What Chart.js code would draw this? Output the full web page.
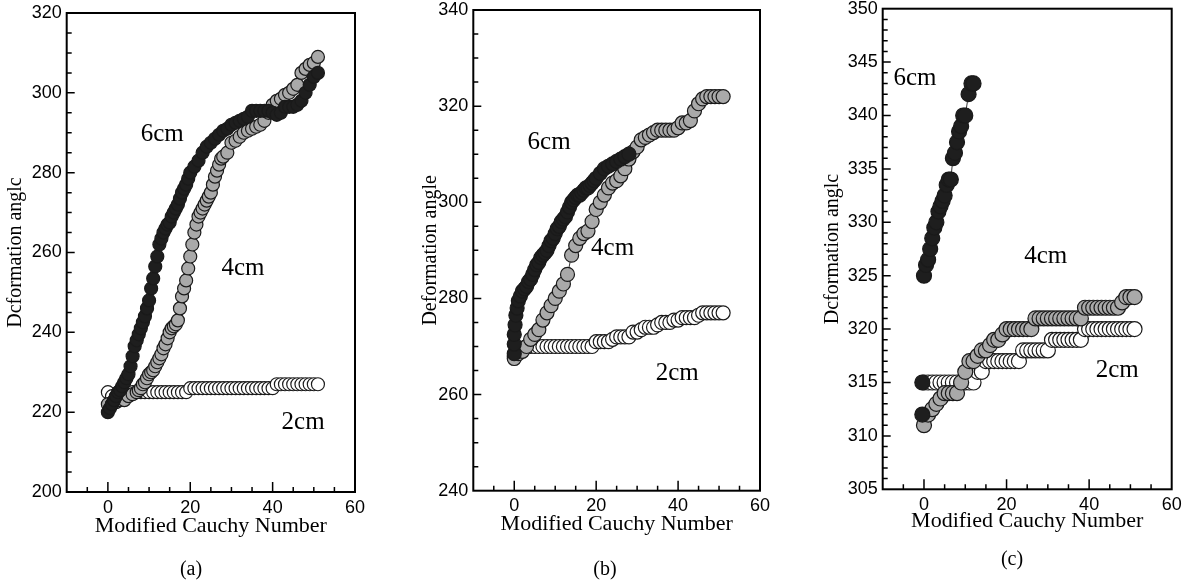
<!DOCTYPE html>
<html>
<head>
<meta charset="utf-8">
<script src="https://cdn.jsdelivr.net/npm/chart.js@4.4.0/dist/chart.umd.min.js"></script>
<style>
  body { margin: 0; background: #fff; width: 1191px; height: 586px; overflow: hidden; position: relative; }
  .panel { position: absolute; top: 0; height: 586px; }
  .caption { position: absolute; font-family: "Liberation Serif", serif; font-size: 20px; transform: translate(-50%, -50%); color: #000; }
</style>
</head>
<body>
<div class="panel" style="left:0;width:370px"><canvas id="chartA"></canvas></div>
<div class="panel" style="left:380px;width:395px"><canvas id="chartB"></canvas></div>
<div class="panel" style="left:790px;width:401px"><canvas id="chartC"></canvas></div>
<div class="caption" style="left:191px;top:568px">(a)</div>
<div class="caption" style="left:605px;top:568px">(b)</div>
<div class="caption" style="left:1012px;top:558px">(c)</div>
<script>
// Modified Cauchy Number (shared x values)
const cauchy = [0, 1, 2, 3, 4, 5, 6, 7, 8, 9, 10, 11, 12, 13, 14, 15, 16, 17, 18, 19, 20, 21, 22, 23, 24, 25,
  26, 27, 28, 29, 30, 31, 32, 33, 34, 35, 36, 37, 38, 39, 40, 41, 42, 43, 44, 45, 46, 47, 48, 49, 50, 51];

// tick labels
const xTicks = [0, 20, 40, 60];
const yTicksA = [200, 220, 240, 260, 280, 300, 320];
const yTicksB = [240, 260, 280, 300, 320, 340];
const yTicksC = [305, 310, 315, 320, 325, 330, 335, 340, 345, 350];

// (a) deformation angle
const angleA2cm = [225, 224, 224, 224, 224.5, 224.5, 225, 225, 225, 225, 225, 225, 225, 225, 225, 225, 225, 225, 225, 225,
  226, 226, 226, 226, 226, 226, 226, 226, 226, 226, 226, 226, 226, 226, 226, 226, 226, 226, 226, 226, 226,
  227, 227, 227, 227, 227, 227, 227, 227, 227, 227, 227];
const cauchyA4cm = [0, 1, 2, 3, 4, 5, 6, 7,
  7.5, 8, 8.5, 9, 9.5, 10, 10.5, 11, 11.5, 12, 12.5, 13, 13.5, 14, 14.5, 15, 15.5, 16, 16.5, 17, 17.5,
  18, 18.5, 19, 19.5, 20, 20.5, 21, 21.5, 22, 22.5, 23, 23.5, 24, 24.5, 25, 25.5, 26, 26.5, 27, 27.5,
  28, 29, 30, 31, 32, 33, 34, 35, 36, 37, 38, 39, 40, 41, 42, 43, 44, 45, 46, 47, 48, 49, 50, 51];
const angleA4cm = [222, 222, 222.5, 223, 223, 224, 224.5, 225,
  225.5, 226, 227, 227.5, 228.5, 229.5, 230, 230.5, 231.5, 232.5, 233.5, 234.5, 236, 237, 238.5, 240, 241, 241.5, 242, 243, 246,
  249, 251, 253, 256, 259, 262, 265, 267, 269, 270, 271, 272, 273, 274, 275, 277, 279, 280.5, 282, 283.5,
  284, 285, 287.5, 288, 289, 290, 290.5, 291, 291.5, 292, 293, 295, 297, 298, 298.5, 299.5, 300, 301, 302, 305, 306, 307, 307.5, 309];
const cauchyA6cm = [0, 0.5, 1, 1.5, 2, 2.5, 3, 3.5, 4, 4.5, 5, 5.5, 6, 6.5, 7, 7.5, 8, 8.5, 9, 9.5, 10,
  10.5, 11, 11.5, 12, 12.5, 13, 13.5, 14, 14.5, 15, 15.5, 16, 16.5, 17, 17.5, 18, 18.5, 19, 19.5, 20,
  21, 22, 23, 24, 25, 26, 27, 28, 29, 30, 31, 32, 33, 34, 35, 36, 37, 38, 39, 40, 41, 42, 43, 44, 45, 46, 47, 48, 49, 50, 51];
const angleA6cm = [220, 221, 222, 223, 224, 225, 225.5, 226.5, 227.5, 228.5, 229.5, 231.5, 234, 236.5, 238, 239.5, 241, 242.5,
  244, 246, 248, 251, 253.5, 256.5, 259, 262, 263.5, 265, 266, 267, 267.5, 269, 270, 271, 272, 273.5, 275, 276, 277, 278.5, 280,
  281.5, 283, 285, 286.5, 287.5, 288.5, 289.5, 290.5, 291, 292, 292.5, 293, 293.5, 294, 295.5, 295.5, 295.5, 295.5, 295.5,
  295, 294.5, 295, 296.5, 296.5, 296.5, 297, 298, 300, 302, 304, 305];

// (b) deformation angle
const angleB2cm = [268, 269, 269.5, 270, 270, 270, 270, 270, 270, 270, 270, 270, 270, 270, 270, 270, 270, 270, 270, 270,
  271, 271, 271, 271, 271.5, 272, 272, 272, 272, 273, 273, 273.5, 274, 274, 274, 274.5, 275, 275, 275, 275.5, 275.5,
  276, 276, 276, 276, 276.5, 277, 277, 277, 277, 277, 277];
const angleB4cm = [267.5, 268.5, 269, 270, 271.5, 272.5, 273.5, 275.5, 277, 278.5, 280, 281.5, 283, 285, 289, 291, 292.5,
  293.5, 294, 296, 298.5, 300, 301.5, 303, 304, 304.5, 305.5, 307, 309, 310.5, 311.5, 313, 313.5, 314, 314.5, 315, 315,
  315, 315, 315, 315.5, 316.5, 316.5, 317, 319, 320.5, 321.5, 322, 322, 322, 322, 322];
const cauchyB6cm = [0, 0, 0, 0.2, 0.4, 0.7, 1,
  1.5, 2, 2.5, 3, 3.5, 4, 4.5, 5, 5.5, 6, 6.5, 7, 7.5, 8, 8.5, 9, 9.5, 10, 10.5, 11, 11.5, 12, 12.5, 13, 13.5,
  14, 14.5, 15, 15.5, 16, 16.5, 17, 17.5, 18, 18.5, 19, 19.5,
  20, 21, 22, 23, 24, 25, 26, 27, 28];
const angleB6cm = [268.5, 270.5, 272.5, 274.5, 276.5, 278, 279.5,
  280.5, 281.5, 282, 282.5, 283.5, 284, 285, 286, 287, 287.5, 288.5, 289, 289.5, 290, 291, 292, 292.5, 293.5, 294.5, 295,
  296, 296.5, 297, 298, 299, 300, 300.5, 301, 301.5, 301.5, 302, 302.5, 303, 303, 303.5, 304, 304.5,
  305, 306, 307, 307.5, 308, 308.5, 309, 309.5, 310];

// (c) deformation angle
const angleC2cm = [315, 315, 315, 315, 315, 315, 315, 315, 315, 315, 315, 315, 315, 316, 316, 317, 317, 317, 317, 317, 317,
  317, 317, 317, 318, 318, 318, 318, 318, 318, 318, 319, 319, 319, 319, 319, 319, 319, 319, 320, 320, 320, 320, 320,
  320, 320, 320, 320, 320, 320, 320, 320];
const angleC4cm = [311, 312, 312.5, 313, 313.5, 314, 314, 314, 314, 315, 316, 317, 317, 317.5, 318, 318, 318.5, 319, 319,
  319.5, 320, 320, 320, 320, 320, 320, 320, 321, 321, 321, 321, 321, 321, 321, 321, 321, 321, 321, 321, 322, 322, 322,
  322, 322, 322, 322, 322, 322, 322.5, 323, 323, 323];
const cauchyC6cm = [0, 0.5, 1, 1.5, 2, 2.5, 3, 3.5, 4, 4.5, 5, 5.5, 6, 6.5, 7, 7.5, 8, 8.5, 9, 9.5, 10, 10.8, 11.5, 12];
const angleC6cm = [325, 326, 326.5, 327.5, 328.5, 329.5, 330, 331, 331.5, 332, 332.5, 333.5, 334, 334, 336, 336.5, 337.5,
  338.5, 339, 340, 340, 342, 343, 343];
const cauchyCStart = [-0.4, -0.4];
const angleCStart = [315, 312];

const fillBlack = "#1e1e1e";
const fillGray = "#a9a9a9";
const fillWhite = "#ffffff";

function toPoints(xs, ys) {
  return ys.map((v, i) => ({ x: xs[i], y: v }));
}

function makeSeries(xs, ys, fill, radius, order, line) {
  return {
    data: toPoints(xs, ys),
    showLine: line,
    borderColor: "#333",
    borderWidth: 1,
    pointRadius: radius,
    pointHoverRadius: radius,
    pointBackgroundColor: fill,
    pointBorderColor: "#1a1a1a",
    pointBorderWidth: 1.2,
    order: order,
    clip: false,
  };
}

// Plugin for the frame, inward ticks and the curve labels
const frameTicks = {
  id: "frameTicks",
  afterDraw(chart) {
    const opts = chart.options.plugins.frameTicks;
    const { ctx, chartArea: a } = chart;
    const x = chart.scales.x;
    const y = chart.scales.y;
    ctx.save();
    ctx.strokeStyle = "#000";
    ctx.lineWidth = 1.5;
    ctx.beginPath();
    for (let v = -5; v <= 55; v += 5) {
      const px = x.getPixelForValue(v);
      const len = xTicks.includes(v) ? 10 : 5;
      ctx.moveTo(px, a.bottom);
      ctx.lineTo(px, a.bottom - len);
    }
    for (let v = y.min + opts.yMinor; v < y.max; v += opts.yMinor) {
      const py = y.getPixelForValue(v);
      const len = opts.yTicks.includes(v) ? 8 : 5;
      ctx.moveTo(a.left, py);
      ctx.lineTo(a.left + len, py);
    }
    ctx.stroke();
    ctx.lineWidth = 2;
    ctx.strokeRect(a.left, a.top, a.right - a.left, a.bottom - a.top);

    ctx.fillStyle = "#000";
    ctx.font = '25px "Liberation Serif", serif';
    ctx.textAlign = "center";
    ctx.textBaseline = "middle";
    for (const lab of opts.labels) {
      ctx.fillText(lab.text, x.getPixelForValue(lab.x), y.getPixelForValue(lab.y));
    }
    ctx.restore();
  },
};

const panels = [
  {
    id: "chartA", yMin: 200, yMax: 320, yTicks: yTicksA, yMinor: 5, yTitle: "Dcformation anglc",
    pad: { left: 0, top: 13, right: 15, bottom: 40 }, yWidth: 66.7, yTitlePad: 4, xHeight: 54, xTitlePad: 6.7,
    series: [
      makeSeries(cauchyA6cm, angleA6cm, fillBlack, 6.5, 0, true),
      makeSeries(cauchyA4cm, angleA4cm, fillGray, 6.5, 1, true),
      makeSeries(cauchy, angleA2cm, fillWhite, 6.5, 2, true),
    ],
    labels: [
      { text: "6cm", x: 13.2, y: 289.7 },
      { text: "4cm", x: 32.8, y: 256 },
      { text: "2cm", x: 47.4, y: 217.5 },
    ],
  },
  {
    id: "chartB", yMin: 240, yMax: 340, yTicks: yTicksB, yMinor: 5, yTitle: "Deformation angle",
    pad: { left: 0, top: 10, right: 15, bottom: 40 }, yWidth: 93.3, yTitlePad: 39, xHeight: 55.3, xTitlePad: 8.4,
    series: [
      makeSeries(cauchyB6cm, angleB6cm, fillBlack, 7, 0, true),
      makeSeries(cauchy, angleB4cm, fillGray, 7, 1, true),
      makeSeries(cauchy, angleB2cm, fillWhite, 7, 2, true),
    ],
    labels: [
      { text: "6cm", x: 8.5, y: 312.5 },
      { text: "4cm", x: 24, y: 290.3 },
      { text: "2cm", x: 39.8, y: 264.3 },
    ],
  },
  {
    id: "chartC", yMin: 305, yMax: 350, yTicks: yTicksC, yMinor: 1, yTitle: "Dcformation anglc",
    pad: { left: 0, top: 8.3, right: 19.3, bottom: 40 }, yWidth: 92.7, yTitlePad: 31, xHeight: 56.7, xTitlePad: 11.7,
    series: [
      makeSeries(cauchyCStart, angleCStart, fillBlack, 7.5, -1, false),
      makeSeries(cauchyC6cm, angleC6cm, fillBlack, 7.5, 0, true),
      makeSeries(cauchy, angleC4cm, fillGray, 7.5, 1, true),
      makeSeries(cauchy, angleC2cm, fillWhite, 7.5, 2, true),
    ],
    labels: [
      { text: "6cm", x: -2.2, y: 343.5 },
      { text: "4cm", x: 29.5, y: 326.8 },
      { text: "2cm", x: 46.8, y: 316.1 },
    ],
  },
];

const tickFont = { family: '"Liberation Sans", Arial, sans-serif', size: 18 };
const titleFont = { family: '"Liberation Serif", "Times New Roman", serif', size: 22 };

for (const p of panels) {
  new Chart(document.getElementById(p.id), {
    type: "scatter",
    data: { datasets: p.series },
    plugins: [frameTicks],
    options: {
      responsive: true,
      maintainAspectRatio: false,
      animation: false,
      layout: { padding: p.pad },
      plugins: {
        legend: { display: false },
        tooltip: { enabled: false },
        frameTicks: { yMinor: p.yMinor, yTicks: p.yTicks, labels: p.labels },
      },
      scales: {
        x: {
          type: "linear",
          min: -10,
          max: 60,
          grid: { display: false, drawTicks: false },
          border: { display: false },
          afterBuildTicks: (s) => { s.ticks = xTicks.map((v) => ({ value: v })); },
          afterFit: (s) => { s.height = p.xHeight; s.paddingLeft = 0; s.paddingRight = 0; },
          ticks: { padding: 5, color: "#000", font: tickFont, maxRotation: 0, autoSkip: false },
          title: {
            display: true, text: "Modified Cauchy Number", color: "#000", font: titleFont,
            padding: { top: 0, bottom: p.xTitlePad },
          },
        },
        y: {
          type: "linear",
          min: p.yMin,
          max: p.yMax,
          grid: { display: false, drawTicks: false },
          border: { display: false },
          afterBuildTicks: (s) => { s.ticks = p.yTicks.map((v) => ({ value: v })); },
          afterFit: (s) => { s.width = p.yWidth; s.paddingTop = 0; s.paddingBottom = 0; },
          ticks: { padding: 5, color: "#000", font: tickFont, autoSkip: false },
          title: {
            display: true, text: p.yTitle, color: "#000",
            font: { family: titleFont.family, size: 20 },
            padding: { top: p.yTitlePad, bottom: 0 },
          },
        },
      },
    },
  });
}
</script>
</body>
</html>
